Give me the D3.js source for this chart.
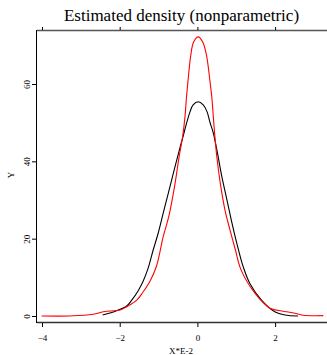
<!DOCTYPE html>
<html><head><meta charset="utf-8">
<script src="https://cdn.jsdelivr.net/npm/d3@7"></script>
<style>html,body{margin:0;padding:0;background:#fff;}svg{display:block;}</style>
</head><body>
<script>
const title = "Estimated density (nonparametric)";
const xLabel = "X*E-2";
const yLabel = "Y";
const xTicks = [-4, -2, 0, 2];
const yTicks = [0, 20, 40, 60];

const redX = [-4.01,-3.28,-2.68,-2.42,-1.99,-1.82,-1.56,-1.40,-1.22,-1.05,-0.88,-0.73,-0.58,-0.47,-0.38,-0.32,-0.28,-0.24,-0.175,-0.10,0.02,0.14,0.24,0.32,0.37,0.41,0.45,0.50,0.59,0.71,0.84,0.98,1.12,1.48,1.87,2.17,2.30,2.51,2.72,3.24];
const redY = [0,0,0.44,1.12,1.55,2.4,4.1,6.2,9.0,13.0,20.5,26.0,34.0,41.2,46.4,51.5,56.7,61.0,67.1,70.8,72.2,70.8,67.1,61.0,56.7,51.5,46.4,41.2,34.3,27.4,22.2,17.0,12.0,5.9,2.0,1.3,1.1,0.7,0.2,0.1];
const blackX = [-2.44,-2.08,-1.82,-1.69,-1.52,-1.40,-1.27,-1.14,-1.01,-0.88,-0.75,-0.62,-0.45,-0.37,-0.28,-0.19,-0.11,0.02,0.15,0.25,0.32,0.41,0.51,0.62,0.75,0.88,1.01,1.18,1.35,1.65,1.99,2.25,2.59];
const blackY = [0.26,1.37,2.6,4.1,6.6,8.9,12.3,17.0,21.4,26.6,31.7,36.9,43.5,46.4,49.8,52.8,54.6,55.4,54.6,52.8,50.2,47.3,42.5,36.5,30.5,24.5,19.0,12.7,8.4,4.1,1.1,0.26,0];

(function () {
const W = 327, H = 355;
const mLeft = 37, mTop = 30, mBottom = 322, mRight = 340;
const svg = d3.select("body").append("svg").attr("width", W).attr("height", H);
const x = d3.scaleLinear().domain([-4, 2]).range([42, 275.1]);
const y = d3.scaleLinear().domain([0, 60]).range([316, 84]);
const font = "'Liberation Serif','Times New Roman',serif";

// frame lines
svg.append("line").attr("x1", mLeft).attr("x2", mRight).attr("y1", mTop+0.5).attr("y2", mTop+0.5).attr("stroke", "#555").attr("stroke-width", 1.3);
svg.append("line").attr("x1", mLeft).attr("x2", mRight).attr("y1", mBottom+0.5).attr("y2", mBottom+0.5).attr("stroke", "#333").attr("stroke-width", 1.3);
svg.append("line").attr("x1", mLeft-0.5).attr("x2", mLeft-0.5).attr("y1", mTop).attr("y2", mBottom+1).attr("stroke", "#000").attr("stroke-width", 1);

// bottom axis
const gx = svg.append("g").attr("transform", `translate(0,${mBottom+1})`)
  .call(d3.axisBottom(x).tickValues(xTicks).tickSize(4).tickPadding(8).tickFormat(d3.format("d")));
gx.select(".domain").remove();
gx.selectAll("text").attr("font-family", font).attr("font-size", 9).attr("fill", "#000");
// top axis ticks
const gt = svg.append("g").attr("transform", `translate(0,${mTop})`)
  .call(d3.axisTop(x).tickValues(xTicks).tickSize(3).tickFormat(""));
gt.select(".domain").remove();

// left axis
const gy = svg.append("g").attr("transform", `translate(${mLeft-1},0)`)
  .call(d3.axisLeft(y).tickValues(yTicks).tickSize(4).tickPadding(2).tickFormat(d3.format("d")));
gy.select(".domain").remove();
gy.selectAll("text").attr("font-family", font).attr("font-size", 9).attr("fill", "#000")
  .attr("text-anchor", "middle").attr("transform", "rotate(-90)")
  .attr("x", 0).attr("dy", 0).attr("y", -6);

// curves
const line = d3.line().x(d => x(d[0])).y(d => y(d[1])).curve(d3.curveCatmullRom.alpha(0.5));
svg.append("path").datum(d3.zip(blackX, blackY)).attr("d", line).attr("fill", "none").attr("stroke", "#000").attr("stroke-width", 1.1);
svg.append("path").datum(d3.zip(redX, redY)).attr("d", line).attr("fill", "none").attr("stroke", "#f00").attr("stroke-width", 1.1);

// texts
svg.append("text").attr("x", 181.5).attr("y", 21).attr("text-anchor", "middle")
  .attr("font-family", font).attr("font-size", 17).attr("fill", "#000").text(title);
svg.append("text").attr("x", 181).attr("y", 354).attr("text-anchor", "middle")
  .attr("font-family", font).attr("font-size", 9).attr("fill", "#000").text(xLabel);
svg.append("text").attr("transform", "translate(14,175) rotate(-90)").attr("text-anchor", "middle")
  .attr("font-family", font).attr("font-size", 9).attr("fill", "#000").text(yLabel);
})();
</script>
</body></html>
